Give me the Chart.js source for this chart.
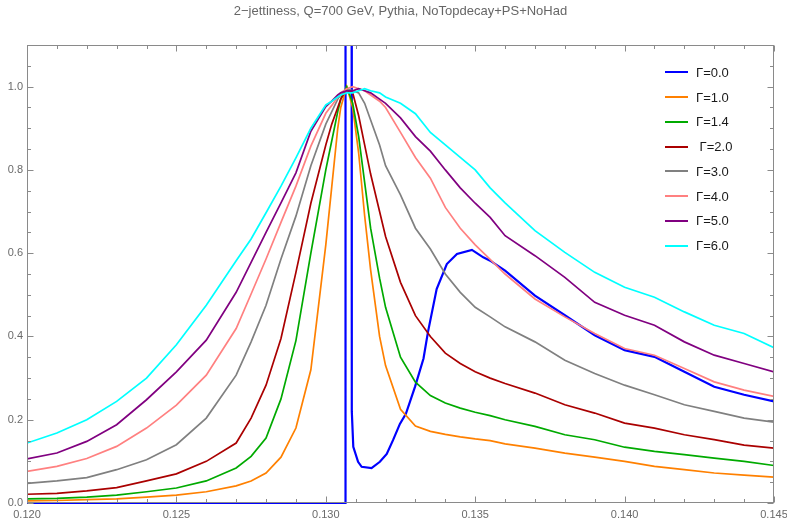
<!DOCTYPE html>
<html>
<head>
<meta charset="utf-8">
<title>2-jettiness</title>
<script src="https://cdn.jsdelivr.net/npm/chart.js@4/dist/chart.umd.min.js"></script>
<style>
  html, body { margin: 0; padding: 0; background: #fff; }
  #wrap { position: relative; width: 787px; height: 522px; }
  #legend { position: absolute; left: 665px; top: 60px; font: 13px "Liberation Sans", Arial, sans-serif; color: #1a1a1a; }
  #legend .row { display: flex; align-items: center; height: 24.75px; white-space: pre; }
  #legend .sw { width: 23px; height: 2px; margin-right: 8px; }
</style>
</head>
<body>
<div id="wrap">
  <canvas id="chart" width="787" height="522"></canvas>
  <div id="legend"></div>
</div>
<script>
const labels = ['Γ=0.0', 'Γ=1.0', 'Γ=1.4', ' Γ=2.0', 'Γ=3.0', 'Γ=4.0', 'Γ=5.0', 'Γ=6.0']
const colors = ['#0000ff', '#ff8000', '#00aa00', '#aa0000', '#808080', '#ff8080', '#800080', '#00ffff']

// common tau grid for the smeared curves
const tau = [0.120, 0.121, 0.122, 0.123, 0.124, 0.125, 0.126, 0.127,
  0.1275, 0.128, 0.1285, 0.129, 0.1295, 0.130,
  0.1302, 0.1304, 0.1305, 0.1307, 0.1309, 0.1311, 0.1313, 0.1315, 0.1318, 0.132,
  0.1325, 0.133, 0.1335, 0.134, 0.1345, 0.135, 0.1355,
  0.136, 0.137, 0.138, 0.139, 0.140, 0.141, 0.142, 0.143, 0.144, 0.145]

const g10 = [0.005, 0.006, 0.008, 0.010, 0.014, 0.019, 0.027, 0.041,
  0.053, 0.072, 0.110, 0.180, 0.32, 0.62,
  0.76, 0.90, 0.95, 1.0, 0.95, 0.84, 0.69, 0.56, 0.40, 0.33,
  0.225, 0.185, 0.172, 0.165, 0.159, 0.154, 0.150,
  0.142, 0.132, 0.120, 0.110, 0.100, 0.088, 0.080, 0.072, 0.067, 0.062]
const g14 = [0.010, 0.011, 0.014, 0.019, 0.027, 0.036, 0.053, 0.084,
  0.112, 0.156, 0.25, 0.39, 0.60, 0.80,
  0.87, 0.94, 0.97, 1.0, 0.96, 0.88, 0.77, 0.66, 0.54, 0.47,
  0.35, 0.29, 0.258, 0.24, 0.228, 0.218, 0.21,
  0.200, 0.184, 0.164, 0.152, 0.134, 0.124, 0.116, 0.108, 0.100, 0.090]
const g20 = [0.021, 0.023, 0.029, 0.037, 0.053, 0.070, 0.100, 0.144,
  0.204, 0.283, 0.395, 0.554, 0.72, 0.86,
  0.91, 0.95, 0.97, 0.995, 0.985, 0.93, 0.86, 0.79, 0.70, 0.64,
  0.53, 0.45, 0.40, 0.36, 0.335, 0.315, 0.300,
  0.287, 0.264, 0.236, 0.216, 0.192, 0.180, 0.164, 0.152, 0.139, 0.132]
const g30 = [0.047, 0.053, 0.061, 0.080, 0.104, 0.140, 0.204, 0.307,
  0.387, 0.475, 0.586, 0.689, 0.81, 0.91,
  0.94, 0.97, 0.98, 0.995, 0.99, 0.985, 0.96, 0.92, 0.86, 0.81,
  0.74, 0.66, 0.61, 0.55, 0.506, 0.47, 0.447,
  0.423, 0.387, 0.343, 0.311, 0.283, 0.260, 0.236, 0.220, 0.204, 0.194]
const g40 = [0.076, 0.088, 0.107, 0.136, 0.180, 0.235, 0.307, 0.419,
  0.502, 0.586, 0.674, 0.761, 0.857, 0.936,
  0.955, 0.975, 0.985, 0.995, 1.0, 0.995, 0.99, 0.98, 0.965, 0.95,
  0.89, 0.83, 0.78, 0.71, 0.66, 0.62, 0.585,
  0.550, 0.490, 0.447, 0.407, 0.371, 0.355, 0.323, 0.291, 0.271, 0.256]
const g50 = [0.106, 0.120, 0.148, 0.188, 0.248, 0.315, 0.391, 0.506,
  0.578, 0.650, 0.721, 0.793, 0.893, 0.952,
  0.965, 0.98, 0.985, 0.99, 0.99, 0.995, 0.99, 0.985, 0.97, 0.96,
  0.925, 0.88, 0.845, 0.80, 0.757, 0.72, 0.686,
  0.642, 0.594, 0.542, 0.482, 0.451, 0.427, 0.387, 0.355, 0.335, 0.315]
const g60 = [0.144, 0.168, 0.200, 0.244, 0.30, 0.38, 0.475, 0.582,
  0.634, 0.697, 0.761, 0.829, 0.900, 0.956,
  0.965, 0.975, 0.98, 0.985, 0.985, 0.99, 0.995, 0.99, 0.985, 0.975,
  0.96, 0.935, 0.89, 0.86, 0.83, 0.80, 0.757,
  0.721, 0.654, 0.602, 0.554, 0.518, 0.494, 0.459, 0.427, 0.407, 0.373]

// unsmeared: spike at the peak, then dip and bump
const tau0 = [0.120, 0.13066, 0.13066, 0.13086, 0.13087, 0.13092, 0.13108, 0.13120,
  0.13153, 0.13181, 0.13204, 0.13225, 0.13248, 0.13268, 0.13299, 0.13327, 0.13342,
  0.13371, 0.13405, 0.13439, 0.13489, 0.13527, 0.1355,
  0.136, 0.137, 0.138, 0.139, 0.140, 0.141, 0.142, 0.143, 0.144, 0.145]
const g00 = [0, 0, 2, 2, 0.22, 0.135, 0.099, 0.087,
  0.084, 0.099, 0.118, 0.151, 0.19, 0.214, 0.28, 0.347, 0.411,
  0.514, 0.574, 0.598, 0.608, 0.590, 0.582,
  0.558, 0.498, 0.451, 0.403, 0.367, 0.351, 0.315, 0.279, 0.260, 0.244]

const xTicks = [0.120, 0.145, 0.005, 0.001]   // min, max, major, minor
const yTicks = [0, 1.1, 0.2, 0.05]

const pts = (xs, ys) => xs.map((x, i) => ({ x, y: ys[i] }))
const series = [pts(tau0, g00), pts(tau, g10), pts(tau, g14), pts(tau, g20),
  pts(tau, g30), pts(tau, g40), pts(tau, g50), pts(tau, g60)]

const font = '"Liberation Sans", Arial, sans-serif'
const frameColor = '#8a8a8a'

// mathematica style frame, ticks pointing inward on all four sides
const frame = {
  id: 'frame',
  afterDatasetsDraw(chart) {
    const { ctx, chartArea: a, scales: { x, y } } = chart
    const L = Math.round(a.left) + 0.5, R = Math.round(a.right) - 0.5
    const T = Math.round(a.top) + 0.5, B = Math.round(a.bottom) - 0.5
    ctx.save()
    ctx.strokeStyle = frameColor
    ctx.lineWidth = 1
    ctx.strokeRect(L, T, R - L, B - T)
    ctx.beginPath()
    const nx = Math.round((xTicks[1] - xTicks[0]) / xTicks[3])
    for (let k = 0; k <= nx; k++) {
      const px = Math.round(x.getPixelForValue(xTicks[0] + k * xTicks[3])) + 0.5
      const len = k % 5 === 0 ? 6 : 3.5
      ctx.moveTo(px, B); ctx.lineTo(px, B - len)
      ctx.moveTo(px, T); ctx.lineTo(px, T + len)
    }
    const ny = Math.round((yTicks[1] - yTicks[0]) / yTicks[3])
    for (let k = 0; k <= ny; k++) {
      const py = Math.round(y.getPixelForValue(yTicks[0] + k * yTicks[3])) + 0.5
      const len = k % 4 === 0 ? 6 : 3.5
      ctx.moveTo(L, py); ctx.lineTo(L + len, py)
      ctx.moveTo(R, py); ctx.lineTo(R - len, py)
    }
    ctx.stroke()
    ctx.restore()
  }
}

new Chart(document.getElementById('chart'), {
  type: 'line',
  data: {
    datasets: series.map((data, i) => ({
      label: labels[i],
      data,
      borderColor: colors[i],
      backgroundColor: colors[i],
      borderWidth: i === 0 ? 2.2 : 1.7,
      pointRadius: 0,
      tension: 0,
      fill: false,
      clip: { left: 0, top: 0, right: 0, bottom: 3 },
      order: series.length - i
    }))
  },
  options: {
    responsive: false,
    devicePixelRatio: 1,
    animation: false,
    layout: { padding: { left: 0, right: 13, top: 0, bottom: 0 } },
    plugins: {
      legend: { display: false },
      tooltip: { enabled: false },
      title: {
        display: true,
        text: '2−jettiness, Q=700 GeV, Pythia, NoTopdecay+PS+NoHad',
        color: '#666',
        fullSize: false,
        font: { family: font, size: 13, weight: 'normal' },
        padding: { top: 4, bottom: 25.4 }
      }
    },
    scales: {
      x: {
        type: 'linear',
        min: xTicks[0], max: xTicks[1],
        grid: { display: false, drawTicks: false },
        border: { display: false },
        ticks: {
          stepSize: xTicks[2], maxRotation: 0, autoSkip: false, padding: 5,
          color: '#6a6a6a', font: { family: font, size: 11 },
          callback: v => Number(v).toFixed(3)
        },
        afterFit(s) { s.height = 19; s.paddingLeft = 0; s.paddingRight = 0 }
      },
      y: {
        type: 'linear',
        min: yTicks[0], max: yTicks[1],
        grid: { display: false, drawTicks: false },
        border: { display: false },
        ticks: {
          stepSize: yTicks[2], includeBounds: false, padding: 4,
          color: '#6a6a6a', font: { family: font, size: 11 },
          callback: v => Number(v).toFixed(1)
        },
        afterFit(s) { s.width = 27 }
      }
    }
  },
  plugins: [frame]
})

const legend = document.getElementById('legend')
labels.forEach((t, i) => {
  const row = document.createElement('div')
  row.className = 'row'
  const sw = document.createElement('span')
  sw.className = 'sw'
  sw.style.background = colors[i]
  const tx = document.createElement('span')
  tx.textContent = t
  row.append(sw, tx)
  legend.append(row)
})
</script>
</body>
</html>
